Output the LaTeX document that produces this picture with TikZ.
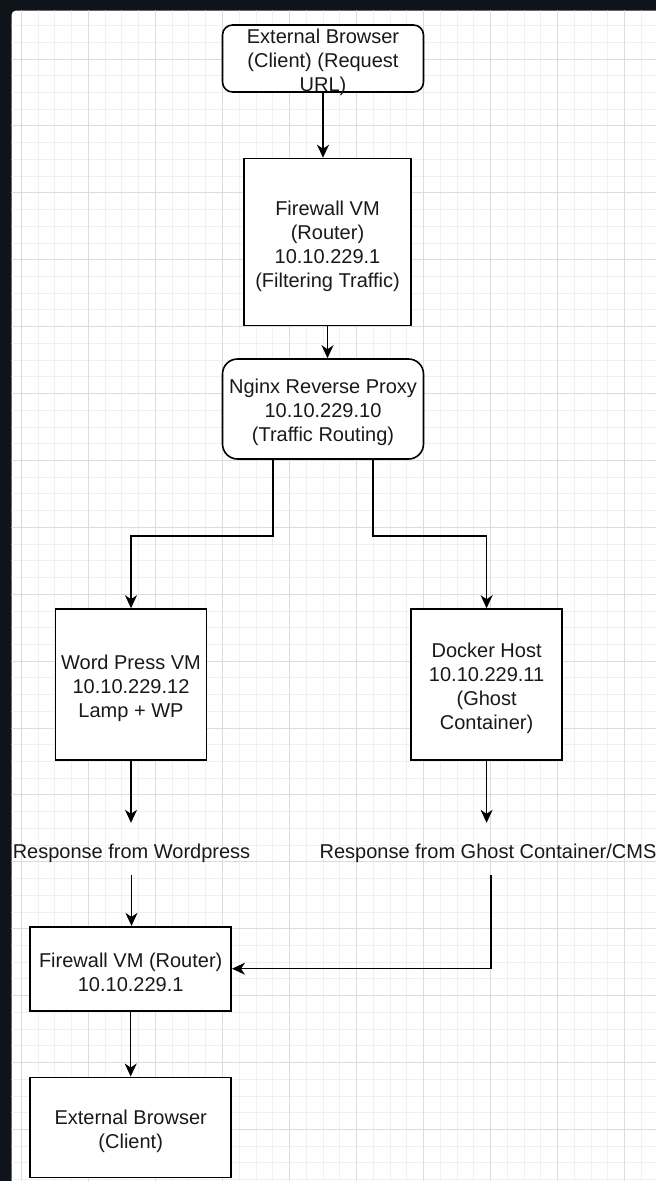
\documentclass[tikz,border=0pt]{standalone}
\usepackage{fontspec}
\setmainfont{Liberation Sans}
\usetikzlibrary{arrows.meta}
\definecolor{framecol}{HTML}{0F141B}
\definecolor{gridmajor}{HTML}{DCDCDC}
\definecolor{gridminor}{HTML}{F0F0F0}
\begin{document}
\begin{tikzpicture}[x=1pt,y=-1pt,
  box/.style={draw=black, line width=1.6pt, fill=white, inner sep=0pt},
  rbox/.style={box, rounded corners=#1},
  txt/.style={inner sep=0pt, align=center, text=black!90, font=\fontsize{20}{24}\selectfont},
  lbl/.style={inner sep=0pt, align=center, minimum height=52pt, text height=22.6pt, text depth=4.2pt, text=black!90, font=\fontsize{20}{24}\selectfont},
  conn/.style={draw=black, line width=1.4pt, -{Stealth[length=13pt,width=12pt,inset=4pt]}},
  minorline/.style={gridminor, line width=0.8pt},
  majorline/.style={gridmajor, line width=1pt}
]
\useasboundingbox (0,0) rectangle (656,1181);
\fill[framecol] (0,0) rectangle (656,1181);
\begin{scope}
  \clip[rounded corners=4pt] (11.7,10.7) rectangle (690,1210);
  \fill[white] (0,0) rectangle (656,1181);
  \foreach \i in {0,...,40} \draw[minorline] ({4.5+16.76*\i},0) -- ({4.5+16.76*\i},1181);
  \foreach \i in {0,...,71} \draw[minorline] (0,{8.8+16.725*\i}) -- (656,{8.8+16.725*\i});
  \foreach \i in {0,...,10} \draw[majorline] ({21.25+67.05*\i},0) -- ({21.25+67.05*\i},1181);
  \foreach \i in {0,...,18} \draw[majorline] (0,{-7.9+66.9*\i}) -- (656,{-7.9+66.9*\i});
\end{scope}

% boxes
\node[rbox=10pt, minimum width=201pt, minimum height=67pt] (top) at (323,58.5) {};
\node[box, minimum width=167pt, minimum height=167pt] (fw1) at (327.5,242) {};
\node[rbox=15pt, minimum width=201pt, minimum height=100pt] (ngx) at (323,409) {};
\node[box, minimum width=151pt, minimum height=151pt] (wp) at (131,684.5) {};
\node[box, minimum width=151pt, minimum height=151pt] (dock) at (486.6,684.5) {};
\node[box, minimum width=201pt, minimum height=84pt] (fw2) at (130.7,968.7) {};
\node[box, minimum width=201pt, minimum height=100pt] (br2) at (130.7,1127.3) {};

% texts
\node[txt] (topT) at ([yshift=-3.5pt]top.center) {External Browser\\(Client) (Request\\URL)};
\node[txt] (fw1T) at ([yshift=-4pt]fw1.center) {Firewall VM\\(Router)\\10.10.229.1\\(Filtering Traffic)};
\node[txt] (ngxT) at ([yshift=-3.5pt]ngx.center) {Nginx Reverse Proxy\\10.10.229.10\\(Traffic Routing)};
\node[txt] (wpT) at ([yshift=-4pt]wp.center) {Word Press VM\\10.10.229.12\\Lamp + WP};
\node[txt] (dockT) at ([yshift=-4pt]dock.center) {Docker Host\\10.10.229.11\\(Ghost\\Container)};
\node[txt] (fw2T) at ([yshift=-4pt]fw2.center) {Firewall VM (Router)\\10.10.229.1};
\node[txt] (br2T) at ([yshift=-4pt]br2.center) {External Browser\\(Client)};
\node[lbl] (lab1) at (131.5,849) {Response from Wordpress};
\node[lbl] (lab2) at (488,849) {Response from Ghost Container/CMS};

% connectors
\draw[conn] (top.south) -- (top.south |- fw1.north);
\draw[conn] (fw1.south) -- (fw1.south |- ngx.north);
\draw[conn] ([xshift=-50pt]ngx.south) -- ++(0,76) -| (wp.north);
\draw[conn] ([xshift=50pt]ngx.south) -- ++(0,76) -| (dock.north);
\draw[conn] (wp.south) -- (wp.south |- lab1.north);
\draw[conn] (dock.south) -- (dock.south |- lab2.north);
\draw[conn] (lab1.south) -- (lab1.south |- fw2.north);
\draw[conn] ([xshift=3pt]lab2.south) |- (fw2.east);
\draw[conn] (fw2.south) -- (br2.north);
\end{tikzpicture}
\end{document}
